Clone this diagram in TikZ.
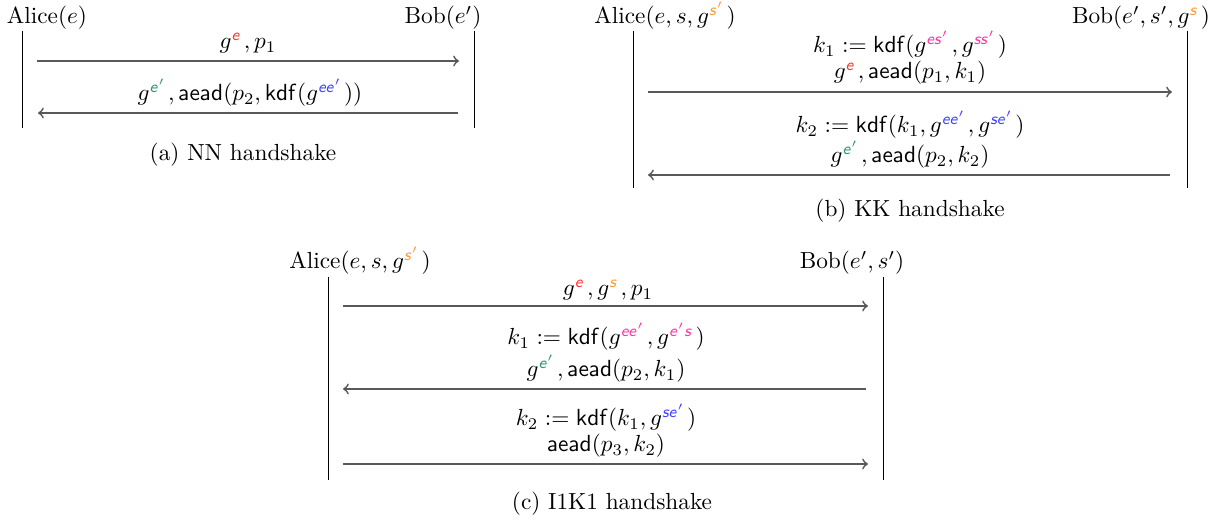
\documentclass[tikz,border=0pt]{standalone}
\usepackage{xcolor}
\DeclareMathAlphabet{\mathsfsl}{OT1}{cmss}{m}{sl}
\definecolor{cRed}{rgb}{1,0.2,0.2}
\definecolor{cOrange}{rgb}{1,0.6,0.2}
\definecolor{cGreen}{rgb}{0.15,0.6,0.4}
\definecolor{cBlue}{rgb}{0.25,0.25,1}
\definecolor{cPink}{rgb}{1,0.2,0.65}
\newcommand{\colsup}[2]{\textcolor{#1}{#2}\mkern2mu}
\newcommand{\kdf}{\mathsf{kdf}}
\newcommand{\aead}{\mathsf{aead}}
\tikzset{
  txt/.style={anchor=base, inner sep=0pt, font=\normalsize},
  life/.style={draw=black, line width=0.4pt},
  msg/.style={draw=black!65, line width=0.75pt, -to},
}
\begin{document}
\begin{tikzpicture}[x=0.4292pt, y=-0.4292pt]
\useasboundingbox (0,0) rectangle (1226,522);
% ---------- (a) NN ----------
\node[txt] (aA) at (47,24) {Alice($e$)};
\node[txt] (aB) at (443,24) {Bob($e'$)};
\coordinate (aAt) at (22,31); \coordinate (aAb) at (22,128);
\coordinate (aBt) at (474,31); \coordinate (aBb) at (474,128);
\draw[life] (aAt) -- (aAb);
\draw[life] (aBt) -- (aBb);
\coordinate (a1s) at (37,61); \coordinate (a1e) at (459,61);
\coordinate (a2s) at (458,113); \coordinate (a2e) at (38,113);
\node[txt] (a1l) at (248,49) {$g^{\colsup{cRed}{\mathsfsl{e}}}, p_1$};
\draw[msg] (a1s) -- (a1e);
\node[txt] (a2l) at (250,101) {$g^{\colsup{cGreen}{\mathsfsl{e}'}}, \aead(p_2, \kdf(g^{\colsup{cBlue}{\mathsfsl{ee}'}}))$};
\draw[msg] (a2s) -- (a2e);
\node[txt] (acap) at (243,161) {(a) NN handshake};
% ---------- (b) KK ----------
\node[txt] (bA) at (665,24) {Alice($e, s, g^{\colsup{cOrange}{\mathsfsl{s}'}}$)};
\node[txt] (bB) at (1141,24) {Bob($e', s', g^{\colsup{cOrange}{\mathsfsl{s}}}$)};
\coordinate (bAt) at (633,31); \coordinate (bAb) at (633,188);
\coordinate (bBt) at (1187,31); \coordinate (bBb) at (1187,188);
\draw[life] (bAt) -- (bAb);
\draw[life] (bBt) -- (bBb);
\coordinate (b1s) at (648,92); \coordinate (b1e) at (1172,92);
\coordinate (b2s) at (1170,175); \coordinate (b2e) at (648,175);
\node[txt] (b1k) at (910,53) {$k_1 := \kdf(g^{\colsup{cPink}{\mathsfsl{es}'}}, g^{\colsup{cPink}{\mathsfsl{ss}'}})$};
\node[txt] (b1l) at (910,79) {$g^{\colsup{cRed}{\mathsfsl{e}}}, \aead(p_1, k_1)$};
\draw[msg] (b1s) -- (b1e);
\node[txt] (b2k) at (910,133) {$k_2 := \kdf(k_1, g^{\colsup{cBlue}{\mathsfsl{ee}'}}, g^{\colsup{cBlue}{\mathsfsl{se}'}})$};
\node[txt] (b2l) at (910,163) {$g^{\colsup{cGreen}{\mathsfsl{e}'}}, \aead(p_2, k_2)$};
\draw[msg] (b2s) -- (b2e);
\node[txt] (bcap) at (910,217) {(b) KK handshake};
% ---------- (c) I1K1 ----------
\node[txt] (cA) at (360,269) {Alice($e, s, g^{\colsup{cOrange}{\mathsfsl{s}'}}$)};
\node[txt] (cB) at (852,269) {Bob($e', s'$)};
\coordinate (cAt) at (328,277); \coordinate (cAb) at (328,480);
\coordinate (cBt) at (883,277); \coordinate (cBb) at (883,480);
\draw[life] (cAt) -- (cAb);
\draw[life] (cBt) -- (cBb);
\coordinate (c1s) at (343,306); \coordinate (c1e) at (868,306);
\coordinate (c2s) at (866,389); \coordinate (c2e) at (343,389);
\coordinate (c3s) at (343,464); \coordinate (c3e) at (868,464);
\node[txt] (c1l) at (608,296) {$g^{\colsup{cRed}{\mathsfsl{e}}}, g^{\colsup{cOrange}{\mathsfsl{s}}}, p_1$};
\draw[msg] (c1s) -- (c1e);
\node[txt] (c2k) at (606,345) {$k_1 := \kdf(g^{\colsup{cPink}{\mathsfsl{ee}'}}, g^{\colsup{cPink}{\mathsfsl{e}'\mathsfsl{s}}})$};
\node[txt] (c2l) at (606,377) {$g^{\colsup{cGreen}{\mathsfsl{e}'}}, \aead(p_2, k_1)$};
\draw[msg] (c2s) -- (c2e);
\node[txt] (c3k) at (606,426) {$k_2 := \kdf(k_1, g^{\colsup{cBlue}{\mathsfsl{se}'}})$};
\node[txt] (c3l) at (606,452) {$\aead(p_3, k_2)$};
\draw[msg] (c3s) -- (c3e);
\node[txt] (ccap) at (612,510) {(c) I1K1 handshake};
\end{tikzpicture}
\end{document}
